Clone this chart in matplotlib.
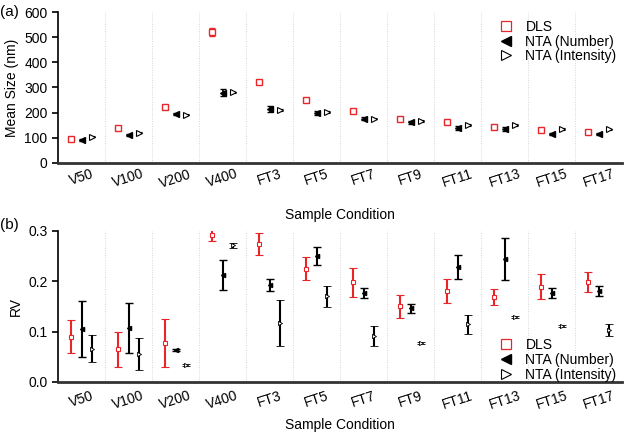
import numpy as np
import matplotlib
matplotlib.use("Agg")
import matplotlib.pyplot as plt
from matplotlib.lines import Line2D

samples = ["V50", "V100", "V200", "V400", "FT3", "FT5", "FT7", "FT9",
           "FT11", "FT13", "FT15", "FT17"]

# mean size (nm)
dls_size = [96, 137, 223, 522, 321, 250, 205, 174, 162, 143, 130, 123]
dls_size_err = [4, 4, 5, 16, 4, 4, 5, 4, 4, 4, 4, 4]
num_size = [89, 109, 195, 279, 216, 198, 176, 162, 139, 133, 114, 114]
num_size_err = [4, 4, 5, 13, 12, 8, 5, 6, 8, 8, 4, 4]
int_size = [104, 120, 192, 280, 211, 203, 176, 167, 150, 150, 135, 133]
int_size_err = [3, 3, 3, 3, 3, 3, 3, 3, 3, 3, 3, 3]

# RV
dls_rv = [0.090, 0.065, 0.077, 0.291, 0.273, 0.225, 0.198, 0.150, 0.181, 0.168, 0.189, 0.198]
dls_rv_err = [0.032, 0.035, 0.048, 0.012, 0.022, 0.022, 0.029, 0.023, 0.024, 0.016, 0.025, 0.020]
num_rv = [0.105, 0.107, 0.064, 0.213, 0.193, 0.250, 0.176, 0.146, 0.228, 0.244, 0.177, 0.181]
num_rv_err = [0.055, 0.050, 0.002, 0.030, 0.012, 0.018, 0.010, 0.009, 0.024, 0.042, 0.010, 0.010]
int_rv = [0.066, 0.056, 0.034, 0.271, 0.117, 0.170, 0.091, 0.077, 0.114, 0.129, 0.111, 0.103]
int_rv_err = [0.027, 0.032, 0.002, 0.005, 0.045, 0.021, 0.020, 0.002, 0.019, 0.002, 0.002, 0.011]

plt.rcParams['font.family'] = ['Liberation Sans', 'DejaVu Sans']
red = "#e8262a"
x = np.arange(len(samples))
off = 0.22
fs = 10

fig = plt.figure(figsize=(6.24, 4.33), dpi=100)
ax1 = fig.add_axes([0.093, 0.624, 0.904, 0.348])
ax2 = fig.add_axes([0.093, 0.118, 0.904, 0.349])


def style(ax, pad, lpad):
    ax.set_xlim(-0.5, len(samples) - 0.5)
    for b in np.arange(0.5, len(samples) - 0.5):
        ax.axvline(b, color="#d4d4d4", lw=0.7, ls=(0, (1, 1.5)), zorder=0)
    for s in ["top", "right"]:
        ax.spines[s].set_visible(False)
    ax.spines["bottom"].set_color("#333333")
    ax.spines["bottom"].set_linewidth(2)
    ax.spines["left"].set_linewidth(1.2)
    ax.set_xticks(x)
    ax.set_xticklabels(samples, rotation=18, fontsize=fs)
    ax.tick_params(axis="x", length=0, pad=pad)
    ax.tick_params(axis="y", labelsize=fs, width=1.2, length=4)
    ax.set_xlabel("Sample Condition", fontsize=fs, labelpad=lpad)


def legend(ax, **kw):
    handles = [
        Line2D([], [], ls="none", marker="s", ms=7, mfc="white", mec=red, mew=0.9),
        Line2D([], [], ls="none", marker="<", ms=7, mfc="black", mec="black"),
        Line2D([], [], ls="none", marker=">", ms=7, mfc="white", mec="black", mew=0.8),
    ]
    ax.legend(handles, ["DLS", "NTA (Number)", "NTA (Intensity)"], frameon=False,
              fontsize=fs, handlelength=1, handletextpad=0.9,
              labelspacing=0.05, borderaxespad=0.0, **kw)


# (a) mean size
ax1.errorbar(x - off, dls_size, yerr=dls_size_err, fmt="s", ms=4, mfc="white",
             mec=red, ecolor=red, capsize=2.5, elinewidth=1.2, mew=1)
ax1.errorbar(x, num_size, yerr=num_size_err, fmt="<", ms=4, mfc="black",
             mec="black", ecolor="black", capsize=2.5, elinewidth=1.2)
ax1.errorbar(x + off, int_size, yerr=int_size_err, fmt=">", ms=4, mfc="white",
             mec="black", ecolor="black", capsize=2.5, elinewidth=1.0, mew=0.8)
style(ax1, 3, 13)
ax1.set_ylim(0, 600)
ax1.set_yticks(range(0, 601, 100))
ax1.set_ylabel("Mean Size (nm)", fontsize=fs)
legend(ax1, loc="upper right", bbox_to_anchor=(1.0, 0.985))

# (b) RV
ax2.errorbar(x - off, dls_rv, yerr=dls_rv_err, fmt="s", ms=3, mfc="white",
             mec=red, ecolor=red, capsize=3, elinewidth=1.5, mew=0.8)
ax2.errorbar(x, num_rv, yerr=num_rv_err, fmt="<", ms=3, mfc="black",
             mec="black", ecolor="black", capsize=3, elinewidth=1.5)
ax2.errorbar(x + off, int_rv, yerr=int_rv_err, fmt=">", ms=3, mfc="white",
             mec="black", ecolor="black", capsize=3, elinewidth=1.5, mew=0.6)
style(ax2, 5, 4)
ax2.set_ylim(0, 0.3)
ax2.set_yticks([0.0, 0.1, 0.2, 0.3])
ax2.set_yticklabels(["0.0", "0.1", "0.2", "0.3"])
ax2.set_ylabel("RV", fontsize=fs)
legend(ax2, loc="lower right", bbox_to_anchor=(1.0, -0.035))

fig.text(0.0, 0.972, "(a)", fontsize=11, va="center")
fig.text(0.0, 0.48, "(b)", fontsize=11, va="center")

fig.savefig("out.png", dpi=100)
